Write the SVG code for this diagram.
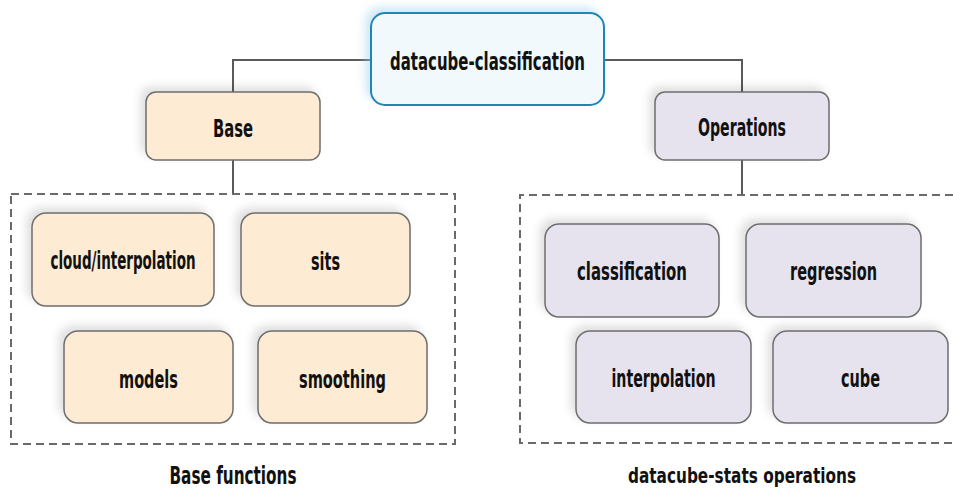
<svg xmlns="http://www.w3.org/2000/svg" width="953" height="491" viewBox="0 0 953 491">
<defs>
<filter id="sh" x="-20%" y="-30%" width="140%" height="160%">
<feDropShadow dx="-5" dy="-5" stdDeviation="4" flood-color="#000" flood-opacity="0.12"/>
</filter>
<filter id="shb" x="-20%" y="-30%" width="140%" height="160%">
<feDropShadow dx="-5" dy="-5" stdDeviation="4" flood-color="#9fd3ee" flood-opacity="0.5"/>
</filter>
<style>
text{font-family:"DejaVu Sans Condensed","Liberation Sans Narrow","Liberation Sans",sans-serif;font-weight:bold;font-size:25px;fill:#111;text-anchor:middle}
.small{font-size:22px}
.peach{fill:#feebd3;stroke:#6e6e6e;stroke-width:1.5}
.lav{fill:#e6e3ef;stroke:#6e6e6e;stroke-width:1.5}
.root{fill:#f2f9fd;stroke:#1d86b5;stroke-width:2}
.conn{fill:none;stroke:#5a5a5a;stroke-width:2}
.group{fill:none;stroke:#6a6a6a;stroke-width:2;stroke-dasharray:8 5}
</style>
</defs>
<rect width="953" height="491" fill="#fff"/>
<g id="connectors">
<path class="conn" d="M371 60 H233 V92"/>
<path class="conn" d="M604 60 H742 V92"/>
<path class="conn" d="M233 160 V194"/>
<path class="conn" d="M742 160 V195"/>
</g>
<g id="group-base">
<rect class="group" x="11" y="194" width="444" height="250"/>
<text x="233" y="484" textLength="127" lengthAdjust="spacingAndGlyphs">Base functions</text>
</g>
<g id="group-ops">
<path class="group" d="M953 195 H520 V443 H953"/>
<text class="small" x="742" y="483" textLength="228" lengthAdjust="spacingAndGlyphs">datacube-stats operations</text>
</g>
<g id="root">
<rect class="root" filter="url(#shb)" x="371" y="13" width="233" height="92" rx="14"/>
<text x="487.5" y="70" textLength="195" lengthAdjust="spacingAndGlyphs">datacube-classification</text>
</g>
<g id="base">
<rect class="peach" filter="url(#sh)" x="146" y="92" width="174" height="68" rx="10"/>
<text x="233" y="137" textLength="40" lengthAdjust="spacingAndGlyphs">Base</text>
</g>
<g id="operations">
<rect class="lav" filter="url(#sh)" x="655" y="92" width="174" height="68" rx="10"/>
<text x="742" y="136" textLength="88" lengthAdjust="spacingAndGlyphs">Operations</text>
</g>
<g id="cloud-interpolation">
<rect class="peach" filter="url(#sh)" x="32" y="213" width="182" height="93" rx="14"/>
<text x="123" y="269" textLength="145" lengthAdjust="spacingAndGlyphs">cloud/interpolation</text>
</g>
<g id="sits">
<rect class="peach" filter="url(#sh)" x="241" y="213" width="169" height="93" rx="14"/>
<text x="325.5" y="270" textLength="29" lengthAdjust="spacingAndGlyphs">sits</text>
</g>
<g id="models">
<rect class="peach" filter="url(#sh)" x="64" y="331" width="169" height="92" rx="14"/>
<text x="148.5" y="388" textLength="59" lengthAdjust="spacingAndGlyphs">models</text>
</g>
<g id="smoothing">
<rect class="peach" filter="url(#sh)" x="258" y="331" width="169" height="92" rx="14"/>
<text x="342.5" y="388" textLength="87" lengthAdjust="spacingAndGlyphs">smoothing</text>
</g>
<g id="classification">
<rect class="lav" filter="url(#sh)" x="545" y="224" width="174" height="93" rx="14"/>
<text x="632" y="280" textLength="110" lengthAdjust="spacingAndGlyphs">classification</text>
</g>
<g id="regression">
<rect class="lav" filter="url(#sh)" x="746" y="224" width="175" height="93" rx="14"/>
<text x="833.5" y="280" textLength="87" lengthAdjust="spacingAndGlyphs">regression</text>
</g>
<g id="interpolation">
<rect class="lav" filter="url(#sh)" x="576" y="331" width="175" height="92" rx="14"/>
<text x="663.5" y="387" textLength="104" lengthAdjust="spacingAndGlyphs">interpolation</text>
</g>
<g id="cube">
<rect class="lav" filter="url(#sh)" x="773" y="331" width="175" height="92" rx="14"/>
<text x="860.5" y="387" textLength="39" lengthAdjust="spacingAndGlyphs">cube</text>
</g>
</svg>
